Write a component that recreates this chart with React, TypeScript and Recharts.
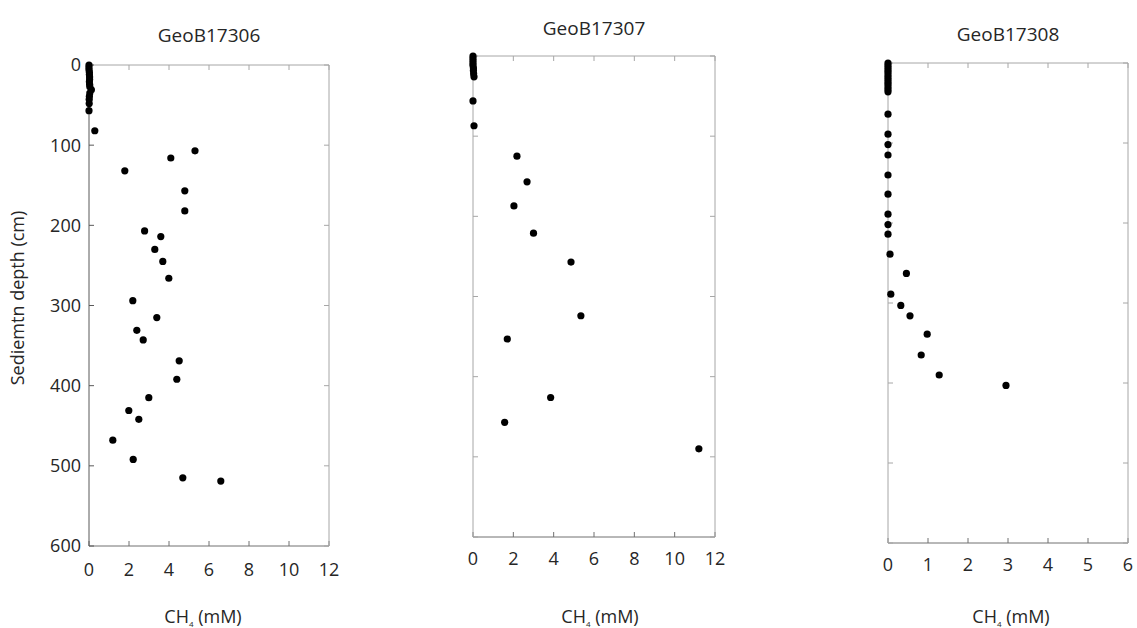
import React from 'react';
import { ScatterChart, Scatter, XAxis, YAxis } from 'recharts';

// Depth ticks shared by all three cores
const depthTicks = [0, 100, 200, 300, 400, 500, 600];
const ch4TicksWide = [0, 2, 4, 6, 8, 10, 12];
const ch4TicksNarrow = [0, 1, 2, 3, 4, 5, 6];

// GeoB17306
const depth17306 = [0, 3, 6, 9, 12, 15, 18, 21, 24, 27, 31, 35, 39, 43, 48, 57, 82, 107, 116, 132, 157, 182, 207, 214, 230, 245, 266, 294, 315, 331, 343, 369, 392, 415, 431, 442, 468, 492, 515, 519];
const ch4_17306 = [0, 0, 0, 0.02, 0.02, 0.03, 0.03, 0.02, 0.03, 0.04, 0.12, 0.04, 0.02, 0.01, 0.01, 0, 0.29, 5.3, 4.09, 1.79, 4.79, 4.79, 2.78, 3.59, 3.29, 3.69, 3.99, 2.19, 3.39, 2.39, 2.71, 4.51, 4.39, 2.99, 1.99, 2.49, 1.19, 2.21, 4.69, 6.59];

// GeoB17307
const depth17307 = [0, 3, 6, 9, 12, 15, 18, 22, 26, 56, 87, 125, 157, 187, 221, 257, 324, 353, 426, 457, 490];
const ch4_17307 = [0, 0, 0, 0, 0, 0.02, 0.02, 0.03, 0.05, 0, 0.05, 2.18, 2.68, 2.03, 3.0, 4.86, 5.35, 1.7, 3.85, 1.57, 11.2];

// GeoB17308
const depth17308 = [0, 3, 6, 9, 12, 15, 18, 21, 24, 27, 30, 33, 36, 64, 89, 102, 115, 140, 164, 189, 202, 214, 239, 263, 289, 303, 316, 339, 365, 390, 403];
const ch4_17308 = [0, 0, 0, 0, 0, 0, 0, 0, 0, 0, 0, 0, 0, 0, 0, 0, 0, 0, 0, 0, 0, 0, 0.05, 0.46, 0.07, 0.32, 0.55, 0.98, 0.83, 1.28, 2.95];

const zip = (depths: number[], ch4: number[]) => depths.map((d, i) => ({ depth: d, ch4: ch4[i] }));

const dot = (props: any) => <circle cx={props.cx} cy={props.cy} r={3.6} fill="#000" />;
const noDot = () => <g />;

const tickStyle = { fill: '#262626', fontSize: 18 };

const Ch4Label = ({ viewBox, dx }: any) => {
  const cx = viewBox.x + viewBox.width / 2 + dx;
  return (
    <text x={cx} y={623} textAnchor="middle" fill="#262626" fontSize={18}>
      CH<tspan dy={4} fontSize={8}>4</tspan>
      <tspan dy={-4}> (mM)</tspan>
    </text>
  );
};

const Title = ({ viewBox, text, dy }: any) => (
  <text x={viewBox.x + viewBox.width / 2} y={viewBox.y - dy} textAnchor="middle" fill="#262626" fontSize={19}>
    {text}
  </text>
);

type PanelProps = {
  left: number;
  width: number;
  margin: { top: number; right: number; bottom: number; left: number };
  yWidth: number;
  showY: boolean;
  domainMax: number;
  xTicks: number[];
  tickMargin: number;
  title: string;
  titleDy: number;
  labelDx: number;
  data: { depth: number; ch4: number }[];
};

const Panel = (p: PanelProps) => (
  <div style={{ position: 'absolute', left: p.left, top: 0 }}>
    <ScatterChart width={p.width} height={628} margin={p.margin}>
      <XAxis
        xAxisId="b"
        type="number"
        dataKey="ch4"
        domain={[0, p.domainMax]}
        ticks={p.xTicks}
        height={30}
        stroke="#707070"
        tickSize={-5}
        tickMargin={p.tickMargin}
        tick={tickStyle}
        interval={0}
        label={(lp: any) => <Ch4Label {...lp} dx={p.labelDx} />}
      />
      <XAxis
        xAxisId="t"
        orientation="top"
        type="number"
        dataKey="ch4"
        domain={[0, p.domainMax]}
        ticks={p.xTicks}
        height={1}
        stroke="#a6a6a6"
        tickSize={-5}
        tickFormatter={() => ''}
        interval={0}
        label={(lp: any) => <Title {...lp} text={p.title} dy={p.titleDy} />}
      />
      <YAxis
        yAxisId="l"
        type="number"
        dataKey="depth"
        domain={[0, 600]}
        ticks={depthTicks}
        reversed
        width={p.yWidth}
        stroke={p.showY ? '#595959' : '#a6a6a6'}
        tickSize={-5}
        tickMargin={13}
        tick={tickStyle}
        interval={0}
        tickFormatter={(v: number) => (p.showY ? String(v) : '')}
        label={
          p.showY
            ? () => (
                <text x={24} y={298} transform="rotate(-90 24 298)" textAnchor="middle" fill="#262626" fontSize={18}>
                  Sediemtn depth (cm)
                </text>
              )
            : undefined
        }
      />
      <YAxis
        yAxisId="r"
        orientation="right"
        type="number"
        dataKey="depth"
        domain={[0, 600]}
        ticks={depthTicks}
        reversed
        width={1}
        stroke="#a6a6a6"
        tickSize={-5}
        tickFormatter={() => ''}
        interval={0}
      />
      {/* invisible series so the frame axes (top/right) get drawn */}
      <Scatter xAxisId="t" yAxisId="r" data={p.data} shape={noDot} isAnimationActive={false} />
      <Scatter xAxisId="b" yAxisId="l" data={p.data} shape={dot} isAnimationActive={false} />
    </ScatterChart>
  </div>
);

const App: React.FC = () => (
  <div
    style={{
      position: 'absolute',
      left: 0,
      top: 0,
      width: 1137,
      height: 628,
      background: '#fff',
      fontFamily: '"Open Sans", sans-serif',
    }}
  >
    <Panel
      left={0}
      width={340}
      margin={{ top: 64, right: 10, bottom: 52, left: 0 }}
      yWidth={89}
      showY
      domainMax={12}
      xTicks={ch4TicksWide}
      tickMargin={22}
      title="GeoB17306"
      titleDy={22}
      labelDx={-6}
      data={zip(depth17306, ch4_17306)}
    />
    <Panel
      left={440}
      width={300}
      margin={{ top: 55, right: 24, bottom: 61, left: 0 }}
      yWidth={33}
      showY={false}
      domainMax={12}
      xTicks={ch4TicksWide}
      tickMargin={20}
      title="GeoB17307"
      titleDy={20}
      labelDx={6}
      data={zip(depth17307, ch4_17307)}
    />
    <Panel
      left={840}
      width={297}
      margin={{ top: 62, right: 8, bottom: 55, left: 0 }}
      yWidth={48}
      showY={false}
      domainMax={6}
      xTicks={ch4TicksNarrow}
      tickMargin={20}
      title="GeoB17308"
      titleDy={21}
      labelDx={3}
      data={zip(depth17308, ch4_17308)}
    />
  </div>
);

export default App;
